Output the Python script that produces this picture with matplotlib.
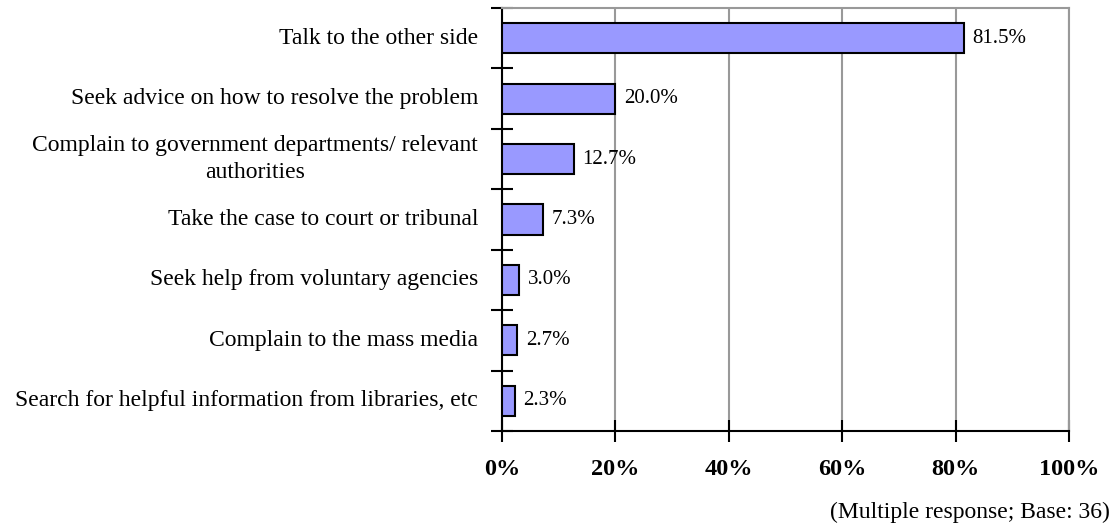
import matplotlib
matplotlib.use("Agg")
import matplotlib.pyplot as plt
import numpy as np

plt.rcParams['font.family'] = ['Liberation Serif', 'DejaVu Serif']

categories = [
    "Talk to the other side",
    "Seek advice on how to resolve the problem",
    "Complain to government departments/ relevant\nauthorities",
    "Take the case to court or tribunal",
    "Seek help from voluntary agencies",
    "Complain to the mass media",
    "Search for helpful information from libraries, etc",
]
values = [81.5, 20.0, 12.7, 7.3, 3.0, 2.7, 2.3]
xticks = [0, 20, 40, 60, 80, 100]

fig = plt.figure(figsize=(11.16, 5.26), dpi=100)
ax = fig.add_axes([502 / 1116, 1 - 431 / 526, 567 / 1116, 423 / 526])

y = np.arange(len(categories))
ax.barh(y, values, height=0.5, color="#9999ff", edgecolor="black", linewidth=1.5, zorder=3)
for yi, v in zip(y, values):
    ax.text(v + 1.5, yi, f"{v:.1f}%", va="center", ha="left", fontsize=15)

ax.set_xlim(0, 100)
ax.set_ylim(len(categories) - 0.5, -0.5)
ax.set_xticks(xticks)
ax.set_xticklabels([f"{t}%" for t in xticks], fontsize=17.5, fontweight="bold")
ax.tick_params(axis="x", direction="inout", length=16, width=1.5, pad=12)

ax.set_yticks(np.arange(len(categories) + 1) - 0.5)
ax.set_yticklabels([])
ax.tick_params(axis="y", direction="inout", length=16, width=1.5)
for yi, c in zip(y, categories):
    ax.text(-4.2, yi, c, ha="right", va="center", fontsize=17,
            multialignment="center", linespacing=1.35)

ax.grid(axis="x", color="#999999", linewidth=1.5, zorder=0)
for s in ["left", "bottom"]:
    ax.spines[s].set_linewidth(1.5)
    ax.spines[s].set_color("black")
for s in ["top", "right"]:
    ax.spines[s].set_linewidth(1.5)
    ax.spines[s].set_color("#999999")

fig.text(1110 / 1116, 1 - 512 / 526, "(Multiple response; Base: 36)", ha="right", va="center", fontsize=17)

fig.savefig("out.png", dpi=100)
